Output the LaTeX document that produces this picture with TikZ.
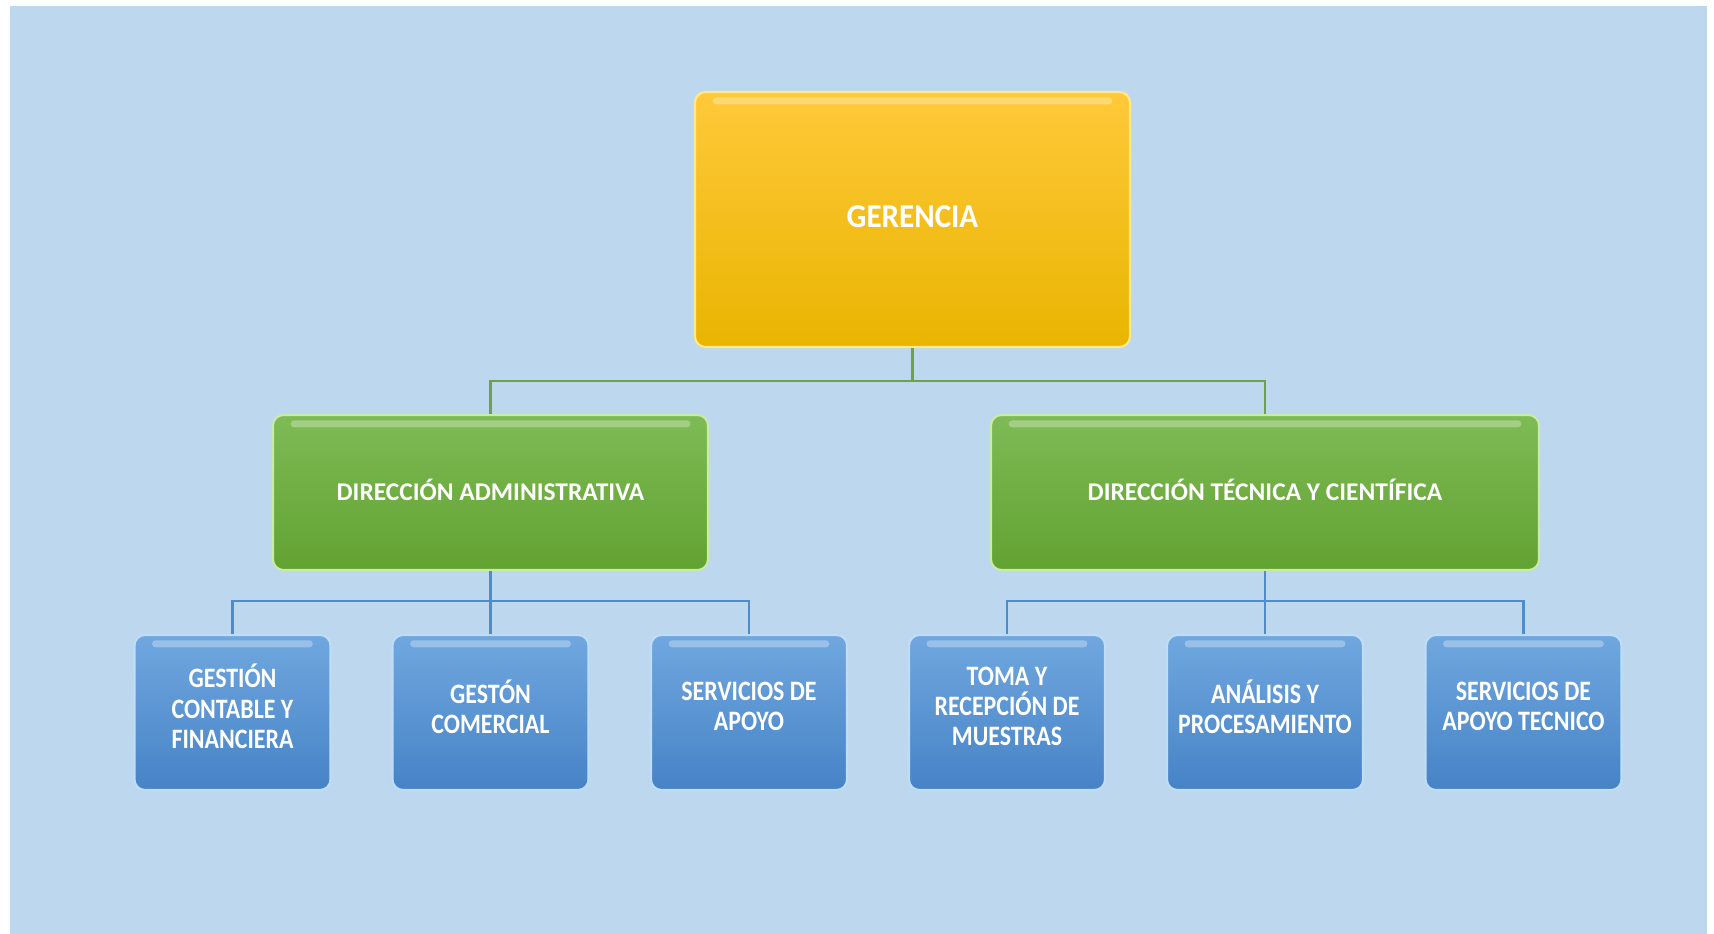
\documentclass[tikz,border=0pt]{standalone}
\usepackage{fontspec}
\setmainfont{Carlito}
\newfontfamily\narrowfont{Carlito}[FakeStretch=0.85]
\newfontfamily\headfont{Carlito}[FakeStretch=0.93]
\usepackage{tikz}
\definecolor{bgblue}{HTML}{BDD7EE}
\definecolor{goldtop}{HTML}{FFC93A}
\definecolor{goldbot}{HTML}{E9B500}
\definecolor{goldrim}{HTML}{FFE98A}
\definecolor{greentop}{HTML}{7EBB56}
\definecolor{greenbot}{HTML}{62A231}
\definecolor{greenrim}{HTML}{C9EBA8}
\definecolor{bluetop}{HTML}{70A7DF}
\definecolor{bluebot}{HTML}{4683C6}
\definecolor{bluerim}{HTML}{BFDDF7}
\definecolor{upline}{HTML}{6FA04A}
\definecolor{lowline}{HTML}{4E8CCB}
\tikzset{
    every node/.style={rectangle, rounded corners=6pt, align=center,
    	text=white, line width=1.2pt}
}
\tikzset{
    gloss/.style={path picture={
        \fill[white, opacity=.3, rounded corners=2pt]
          ([xshift=10pt, yshift=-3pt]path picture bounding box.north west)
          rectangle ([xshift=-10pt, yshift=-7pt]path picture bounding box.north east);}},
    head/.style={gloss, top color=goldtop, bottom color=goldbot, draw=goldrim,
    	minimum width=8.7cm, minimum height=5.1cm, text depth=3.5pt,
    	font=\headfont\bfseries\fontsize{19}{22}\selectfont},
    dept/.style={gloss, top color=greentop, bottom color=greenbot, draw=greenrim,
    	minimum height=3.1cm, text depth=3.5pt,
    	font=\bfseries\fontsize{14.5}{17}\selectfont},
    unit/.style={gloss, top color=bluetop, bottom color=bluebot, draw=bluerim,
    	minimum width=3.92cm, minimum height=3.1cm, text depth=7pt,
    	font=\narrowfont\bfseries\fontsize{16}{17.2}\selectfont}
}
\tikzset{
    top link/.style={draw=upline, line width=1.2pt},
    low link/.style={draw=lowline, line width=1.2pt}
}

\begin{document}
\begin{tikzpicture}
  % page and background
  \useasboundingbox (0,0) rectangle (34.28,-18.68);
  \fill[white] (0,0) rectangle (34.28,-18.68);
  \fill[bgblue] (0.2,-0.12) rectangle (34.14,-18.8);

  \node (ger) [head] at (18.25cm, -4.39cm) {GERENCIA};
  \node (adm) [dept, minimum width=8.7cm] at (9.81cm, -9.85cm) {DIRECCIÓN ADMINISTRATIVA};
  \node (tec) [dept, minimum width=10.96cm] at (25.30cm, -9.85cm) {DIRECCIÓN TÉCNICA Y CIENTÍFICA};

  \node (gcf) [unit] at (4.65cm, -14.25cm) {GESTIÓN\\CONTABLE Y\\FINANCIERA};
  \node (gco) [unit] at (9.81cm, -14.25cm) {GESTÓN\\COMERCIAL};
  \node (sap) [unit] at (14.98cm, -14.25cm) {SERVICIOS DE\\APOYO};
  \node (trm) [unit] at (20.14cm, -14.25cm) {TOMA Y\\RECEPCIÓN DE\\MUESTRAS};
  \node (anp) [unit] at (25.30cm, -14.25cm) {ANÁLISIS Y\\PROCESAMIENTO};
  \node (sat) [unit] at (30.47cm, -14.25cm) {SERVICIOS DE\\APOYO TECNICO};

  \draw[top link] (ger.south) -- ++(0,-0.66) -| (adm.north);
  \draw[top link] (ger.south) -- ++(0,-0.66) -| (tec.north);
  \draw[low link] (adm.south) -- ++(0,-0.6) -| (gcf.north);
  \draw[low link] (adm.south) -- (gco.north);
  \draw[low link] (adm.south) -- ++(0,-0.6) -| (sap.north);
  \draw[low link] (tec.south) -- ++(0,-0.6) -| (trm.north);
  \draw[low link] (tec.south) -- (anp.north);
  \draw[low link] (tec.south) -- ++(0,-0.6) -| (sat.north);
\end{tikzpicture}
\end{document}
